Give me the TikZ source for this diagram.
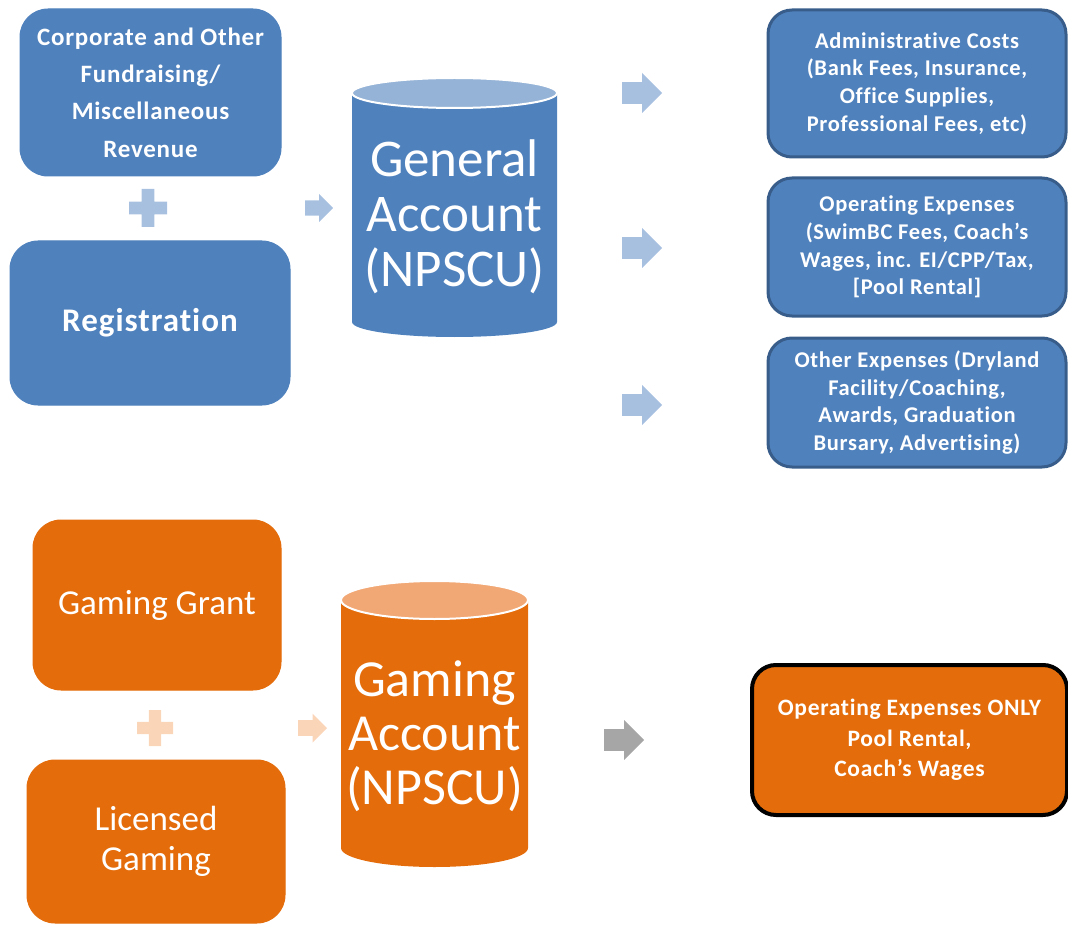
\documentclass[tikz,border=0pt]{standalone}
\usepackage{fontspec}
\setmainfont[Ligatures=NoCommon]{Carlito}
\newfontfamily\boxfont[LetterSpace=3,Ligatures=NoCommon]{Carlito}
\definecolor{bfill}{RGB}{79,129,189}
\definecolor{bedge}{RGB}{56,93,138}
\definecolor{blight}{RGB}{168,192,224}
\definecolor{btop}{RGB}{149,179,215}
\definecolor{ofill}{RGB}{228,108,10}
\definecolor{olight}{RGB}{251,213,184}
\definecolor{otop}{RGB}{242,168,116}
\definecolor{garrow}{RGB}{166,166,166}
\tikzset{
  box/.style={rounded corners=28pt, text=white, align=center, inner sep=0pt, line width=1pt},
  bluebox/.style={box, fill=bfill, draw=bfill},
  rbox/.style={box, rounded corners=24pt, fill=bfill, draw=bedge, line width=3pt,
     font=\boxfont\bfseries\fontsize{22.5}{27.7}\selectfont},
  orangebox/.style={box, fill=ofill, draw=ofill},
  cyltext/.style={text=white, align=center, inner sep=0pt},
  blockarrow/.pic={\path[pic actions] (-0.5,-0.27) -- (0,-0.27) -- (0,-0.5) -- (0.5,0) -- (0,0.5) -- (0,0.27) -- (-0.5,0.27) -- cycle;},
  plussign/.pic={\path[pic actions] (-0.17,-0.5) -- (0.17,-0.5) -- (0.17,-0.17) -- (0.5,-0.17) -- (0.5,0.17) -- (0.17,0.17) -- (0.17,0.5) -- (-0.17,0.5) -- (-0.17,0.17) -- (-0.5,0.17) -- (-0.5,-0.17) -- (-0.17,-0.17) -- cycle;}
}
\begin{document}
\begin{tikzpicture}[x=1pt,y=-1pt]
\useasboundingbox (0,0) rectangle (1068,925);
% ---------- General account part ----------
\node[bluebox, minimum width=261pt, minimum height=167pt,
  font=\boxfont\bfseries\fontsize{25}{37.3}\selectfont] (corp) at (150.5,92.5)
  {Corporate and Other\\Fundraising/\\Miscellaneous\\Revenue};
\pic[fill=blight, scale=38] (plusA) at (148,208) {plussign};
\node[bluebox, minimum width=280pt, minimum height=164pt,
  font=\boxfont\bfseries\fontsize{33}{38}\selectfont] (reg) at (150,323) {Registration};
\pic[fill=blight, scale=28] (arrA) at (319,208) {blockarrow};
% cylinder
\fill[bfill] (352,93) -- (352,322) arc[start angle=180, end angle=0, x radius=102.5pt, y radius=-15pt] -- (557,93) -- cycle;
\filldraw[fill=btop, draw=white, line width=2pt] (454.5,93) ellipse[x radius=102.5pt, y radius=15pt];
\node[cyltext, font=\fontsize{53}{55}\selectfont] (gen) at (454.5,217) {General\\Account\\(NPSCU)};
% right arrows
\pic[fill=blight, scale=40] (arrB) at (642,93) {blockarrow};
\pic[fill=blight, scale=40] (arrC) at (642,248) {blockarrow};
\pic[fill=blight, scale=40] (arrD) at (642,405) {blockarrow};
% expense boxes
\node[rbox, minimum width=298pt, minimum height=147pt] (adm) at (917,83.5)
  {Administrative Costs\\(Bank Fees, Insurance,\\Office Supplies,\\Professional Fees, etc)};
\node[rbox, minimum width=298pt, minimum height=138pt] (ope) at (917,247)
  {Operating Expenses\\(SwimBC Fees, Coach’s\\Wages, inc. EI/CPP/Tax,\\{[Pool Rental]}};
\node[rbox, minimum width=298pt, minimum height=129pt] (oth) at (917,402.5)
  {Other Expenses (Dryland\\Facility/Coaching,\\Awards, Graduation\\Bursary, Advertising)};
% ---------- Gaming account part ----------
\node[orangebox, minimum width=248pt, minimum height=170pt,
  font=\fontsize{35}{40}\selectfont] (grant) at (157,605) {Gaming Grant};
\pic[fill=olight, scale=36] (plusB) at (155,728) {plussign};
\node[orangebox, minimum width=258pt, minimum height=163pt,
  font=\fontsize{35}{40}\selectfont] (lic) at (156,841.5) {Licensed\\Gaming};
\pic[fill=olight, scale=29] (arrE) at (312.5,728) {blockarrow};
% cylinder
\fill[ofill] (341,600) -- (341,848) arc[start angle=180, end angle=0, x radius=93.5pt, y radius=-19pt] -- (528,600) -- cycle;
\filldraw[fill=otop, draw=white, line width=2pt] (434.5,600) ellipse[x radius=93.5pt, y radius=19pt];
\node[cyltext, font=\fontsize{52}{54}\selectfont] (gam) at (434.5,736) {Gaming\\Account\\(NPSCU)};
\pic[fill=garrow, scale=40] (arrF) at (624,740) {blockarrow};
\node[box, rounded corners=24pt, fill=ofill, draw=black, line width=4pt,
  minimum width=315pt, minimum height=150pt,
  font=\boxfont\bfseries\fontsize{23.5}{30.5}\selectfont] (only) at (909.5,740)
  {Operating Expenses ONLY\\Pool Rental,\\Coach’s Wages};
\end{tikzpicture}
\end{document}
